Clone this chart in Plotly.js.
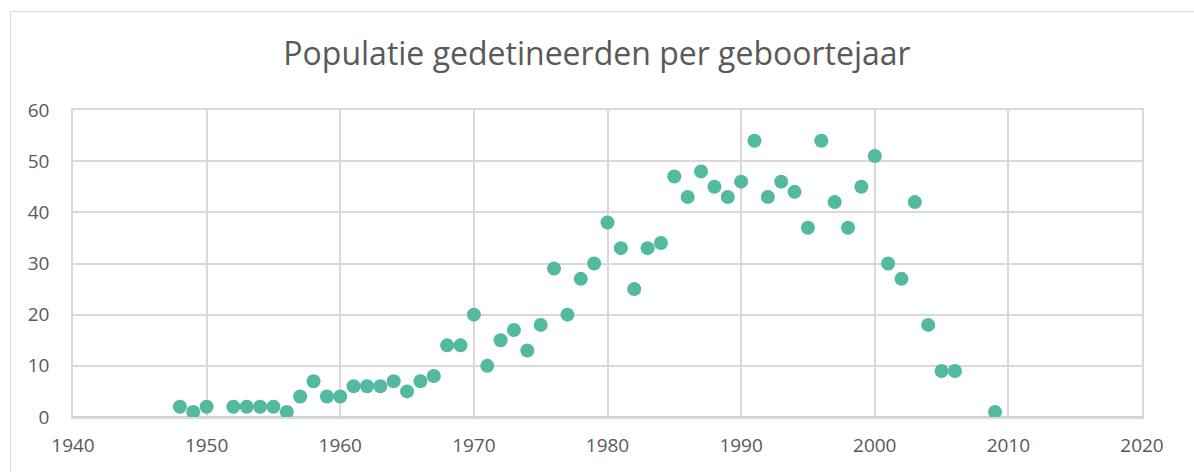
<!DOCTYPE html>
<html>
<head>
<meta charset="utf-8">
<script src="https://cdn.plot.ly/plotly-3.0.1.min.js"></script>
<style>
html,body{margin:0;padding:0;background:#fff;}
#wrap{position:relative;width:1194px;height:472px;overflow:hidden;}
#chart{width:1194px;height:472px;}
#frame{position:absolute;left:10px;top:11px;width:1200px;height:480px;border-left:1px solid #d9d9d9;border-top:1px solid #d9d9d9;pointer-events:none;}
</style>
</head>
<body>
<div id="wrap"><div id="chart"></div><div id="frame"></div></div>
<script>
const years = [1948,1949,1950,1952,1953,1954,1955,1956,1957,1958,1959,1960,1961,1962,1963,1964,1965,1966,1967,1968,1969,1970,1971,1972,1973,1974,1975,1976,1977,1978,1979,1980,1981,1982,1983,1984,1985,1986,1987,1988,1989,1990,1991,1992,1993,1994,1995,1996,1997,1998,1999,2000,2001,2002,2003,2004,2005,2006,2009];
const counts = [2,1,2,2,2,2,2,1,4,7,4,4,6,6,6,7,5,7,8,14,14,20,10,15,17,13,18,29,20,27,30,38,33,25,33,34,47,43,48,45,43,46,54,43,46,44,37,54,42,37,45,51,30,27,42,18,9,9,1];
const xTicks = [1940,1950,1960,1970,1980,1990,2000,2010,2020];
const yTicks = [0,10,20,30,40,50,60];
const titleText = "Populatie gedetineerden per geboortejaar";

const font = "Open Sans, sans-serif";
Plotly.newPlot('chart', [{
  type: 'scatter', mode: 'markers', x: years, y: counts,
  marker: {color: '#53b9a0', size: 14, line: {width: 0}},
  hoverinfo: 'x+y', cliponaxis: false
}], {
  width: 1194, height: 472,
  margin: {l: 73, r: 52, t: 110, b: 55},
  paper_bgcolor: '#fff', plot_bgcolor: '#fff',
  showlegend: false,
  title: {text: titleText, x: 0.5, xanchor: 'center', y: 1 - 54/472, yanchor: 'middle', yref: 'container',
          font: {family: font, size: 32, color: '#595959'}},
  xaxis: {range: [1940, 2020], tickvals: xTicks, ticktext: xTicks.map(String),
          showgrid: true, gridcolor: '#d9d9d9', gridwidth: 1.5, zeroline: false,
          showline: true, linecolor: '#d9d9d9', linewidth: 1.5, mirror: true,
          ticks: '', tickfont: {family: font, size: 19, color: '#595959'}, ticklabelstandoff: 10},
  yaxis: {range: [0, 60], tickvals: yTicks, ticktext: yTicks.map(String),
          showgrid: true, gridcolor: '#d9d9d9', gridwidth: 1.5, zeroline: false,
          showline: true, linecolor: '#d9d9d9', linewidth: 1.5, mirror: true,
          ticks: '', tickfont: {family: font, size: 19, color: '#595959'}, ticklabelstandoff: 18},
  shapes: [{type: 'line', xref: 'paper', yref: 'y', x0: 0, x1: 1, y0: 0, y1: 0, layer: 'between',
            line: {color: '#bfbfbf', width: 1.5}}]
}, {displayModeBar: false});
</script>
</body>
</html>
